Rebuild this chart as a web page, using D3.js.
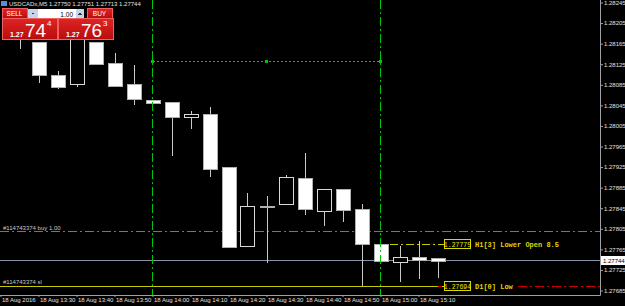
<!DOCTYPE html>
<html>
<head>
<meta charset="utf-8">
<script src="https://cdn.jsdelivr.net/npm/d3@7"></script>
<style>
  body { margin: 0; background: #000; }
  text { font-family: "Liberation Sans", Arial, sans-serif; }
</style>
</head>
<body>
<div id="chart"></div>
<script>
// ---- data ----
var symbolName = "USDCADx,M5";
var headerQuotes = ["1.27750", "1.27751", "1.27713", "1.27744"];

var candleTimes = ["13:25", "13:30", "13:35", "13:40", "13:45", "13:50", "13:55", "14:00",
  "14:05", "14:10", "14:15", "14:20", "14:25", "14:30", "14:35", "14:40", "14:45", "14:50",
  "14:55", "15:00", "15:05", "15:10", "15:15"];
var openPrices  = [1.28183, 1.28169, 1.28105, 1.28086, 1.28169, 1.28128, 1.28086, 1.28056,
  1.28051, 1.28023, 1.28029, 1.27926, 1.27772, 1.27850, 1.27852, 1.27903, 1.27841, 1.27883,
  1.27844, 1.27775, 1.27741, 1.27751, 1.27749];
var highPrices  = [1.28191, 1.28169, 1.28111, 1.28191, 1.28169, 1.28146, 1.28124, 1.28056,
  1.28051, 1.28035, 1.28041, 1.27926, 1.27874, 1.27868, 1.27909, 1.27953, 1.27883, 1.27883,
  1.27854, 1.27775, 1.27771, 1.27782, 1.27749];
var lowPrices   = [1.28154, 1.28089, 1.28076, 1.28080, 1.28126, 1.28082, 1.28045, 1.28051,
  1.27946, 1.28000, 1.27905, 1.27767, 1.27772, 1.27738, 1.27852, 1.27831, 1.27811, 1.27819,
  1.27694, 1.27741, 1.27701, 1.27708, 1.27710];
var closePrices = [1.28175, 1.28105, 1.28082, 1.28179, 1.28126, 1.28084, 1.28056, 1.28051,
  1.28021, 1.28029, 1.27922, 1.27771, 1.27850, 1.27848, 1.27905, 1.27843, 1.27883, 1.27843,
  1.27775, 1.27741, 1.27751, 1.27745, 1.27744];

var priceTicks = [1.28245, 1.28205, 1.28165, 1.28125, 1.28085, 1.28045, 1.28005, 1.27965,
  1.27925, 1.27885, 1.27845, 1.27805, 1.27765, 1.27725, 1.27685];
var timeTicks = ["13:20", "13:30", "13:40", "13:50", "14:00", "14:10", "14:20", "14:30",
  "14:40", "14:50", "15:00", "15:10"];
var timeTickLabels = ["18 Aug 2016", "18 Aug 13:30", "18 Aug 13:40", "18 Aug 13:50",
  "18 Aug 14:00", "18 Aug 14:10", "18 Aug 14:20", "18 Aug 14:30", "18 Aug 14:40",
  "18 Aug 14:50", "18 Aug 15:00", "18 Aug 15:10"];

var orderId = "#114743374";
var buyPrice = 1.27800, slPrice = 1.27694, bidPrice = 1.27744;
var h1OpenPrice = 1.27775, d1LowPrice = 1.27694;
var trendTimes = ["14:00", "15:00"], trendPrice = 1.28132;
var separatorTimes = ["14:00", "15:00"];
var sellQuote = ["1.27", "74", "4"], buyQuote = ["1.27", "76", "3"];

// ---- setup ----
var margin = {top: 0, right: 25, bottom: 11, left: 0},
    width = 625 - margin.left - margin.right,
    height = 306 - margin.top - margin.bottom;

var parseTime = function(s) { return d3.timeParse("%Y-%m-%d %H:%M")("2016-08-18 " + s); };

var svg = d3.select("#chart").append("svg")
    .attr("width", 625).attr("height", 306)
    .style("display", "block")
    .style("background", "#000");

var x = d3.scaleTime()
    .domain([parseTime("13:20"), parseTime("15:20")])
    .range([0.5, 456.5]);
var y = d3.scaleLinear()
    .domain([1.27685, 1.28245])
    .range([290.5, 2.5]);

var candles = candleTimes.map(function(t, i) {
  return {t: parseTime(t), o: openPrices[i], h: highPrices[i], l: lowPrices[i], c: closePrices[i]};
});

var plot = svg.append("g").attr("shape-rendering", "crispEdges");

// horizontal levels behind candles
function hline(price, x0, x1, color, dash) {
  plot.append("line")
    .attr("x1", x0).attr("x2", x1)
    .attr("y1", Math.round(y(price)) + 0.5).attr("y2", Math.round(y(price)) + 0.5)
    .attr("stroke", color).attr("stroke-dasharray", dash || null);
}
hline(buyPrice, 0, width, "#00c800", "9,3,2,3");
hline(bidPrice, 0, width, "#8a96a8");
hline(slPrice, 0, 444, "#c8c800");
hline(slPrice, 438, 444, "#d00000", "4,2,1,2");
hline(d1LowPrice, 518, width, "#d00000", "9,3,2,3");
hline(h1OpenPrice, 390, 444, "#c8c800", "8,3,2,3");

// candles
var cg = plot.selectAll(".candle").data(candles).enter().append("g").attr("class", "candle");
cg.append("line")
  .attr("x1", function(d) { return Math.round(x(d.t)) + 0.5; })
  .attr("x2", function(d) { return Math.round(x(d.t)) + 0.5; })
  .attr("y1", function(d) { return y(d.h); })
  .attr("y2", function(d) { return y(d.l); })
  .attr("stroke", "#c8c8c8");
cg.append("rect")
  .attr("x", function(d) { return Math.round(x(d.t)) - 6.5; })
  .attr("width", 14)
  .attr("y", function(d) { return Math.round(y(Math.max(d.o, d.c))) + 0.5; })
  .attr("height", function(d) { return Math.max(1, Math.round(y(Math.min(d.o, d.c)) - y(Math.max(d.o, d.c)))); })
  .attr("fill", function(d) { return d.c > d.o ? "#000" : "#fff"; })
  .attr("stroke", function(d) { return d.c > d.o ? "#d8d8d8" : "#b0b0b0"; });

// period separators and trendline on top
separatorTimes.forEach(function(t) {
  var xx = Math.round(x(parseTime(t))) - 0.5;
  plot.append("line").attr("x1", xx).attr("x2", xx).attr("y1", 0).attr("y2", height)
    .attr("stroke", "#00c800").attr("stroke-dasharray", "9,3,2,3");
});
var ty = Math.round(y(trendPrice)) + 0.5;
plot.append("line")
  .attr("x1", x(parseTime(trendTimes[0]))).attr("x2", x(parseTime(trendTimes[1])))
  .attr("y1", ty).attr("y2", ty)
  .attr("stroke", "#00c800").attr("stroke-dasharray", "2,2");
[trendTimes[0], "14:30", trendTimes[1]].forEach(function(t) {
  plot.append("rect").attr("x", Math.round(x(parseTime(t))) - 2).attr("y", ty - 1.5)
    .attr("width", 3).attr("height", 3).attr("fill", "#00c800");
});

// level labels
svg.append("text").attr("x", 3).attr("y", Math.round(y(buyPrice)) - 1)
  .attr("fill", "#c8c8c8").style("font-size", "6px").text(orderId + " buy 1.00");
svg.append("text").attr("x", 3).attr("y", Math.round(y(slPrice)) - 2)
  .attr("fill", "#c8c8c8").style("font-size", "6px").text(orderId + " sl");

function levelTag(price, label) {
  var yy = Math.round(y(price));
  svg.append("rect").attr("x", 444.5).attr("y", yy - 4.5).attr("width", 26).attr("height", 9)
    .attr("fill", "#000").attr("stroke", "#d8d800").attr("shape-rendering", "crispEdges");
  svg.append("text").attr("x", 457.5).attr("y", yy + 2.5).attr("text-anchor", "middle")
    .attr("fill", "#e8e800").style("font-family", "'Liberation Mono', monospace")
    .style("font-size", "6.5px").text(price.toFixed(5));
  svg.append("text").attr("x", 475).attr("y", yy + 2.5)
    .attr("fill", "#e0d800").style("font-family", "'Liberation Mono', monospace")
    .style("font-size", "7px").style("font-weight", "bold").text(label);
}
levelTag(h1OpenPrice, "H1[3] Lower Open 8.5");
levelTag(d1LowPrice, "D1[0] Low");

// ---- axes ----
var yAxis = svg.append("g")
  .attr("transform", "translate(" + width + ",0)")
  .call(d3.axisRight(y).tickValues(priceTicks).tickSize(3).tickPadding(1)
    .tickFormat(d3.format(".5f")));
var xAxis = svg.append("g")
  .attr("transform", "translate(0," + height + ")")
  .call(d3.axisBottom(x).tickValues(timeTicks.map(parseTime)).tickSize(2).tickPadding(1)
    .tickFormat(function(d, i) { return timeTickLabels[i]; }));
[yAxis, xAxis].forEach(function(a) {
  a.select(".domain").remove();
  a.selectAll("line").attr("stroke", "#a0a0a0");
  a.selectAll("text").attr("fill", "#e0e0e0")
    .style("font-family", "'Liberation Sans', Arial, sans-serif").style("font-size", "6px");
});
xAxis.selectAll("text").attr("text-anchor", "start").attr("x", 1);

svg.append("line").attr("x1", 0).attr("x2", width + 0.5).attr("y1", height + 0.5).attr("y2", height + 0.5)
  .attr("stroke", "#a0a0a0");
svg.append("line").attr("x1", width + 0.5).attr("x2", width + 0.5).attr("y1", 0).attr("y2", height + 0.5)
  .attr("stroke", "#a0a0a0");

// bid tag
var by = Math.round(y(bidPrice));
svg.append("rect").attr("x", 601).attr("y", by - 4).attr("width", 24).attr("height", 9).attr("fill", "#fff");
svg.append("text").attr("x", 603).attr("y", by + 3).attr("fill", "#000").style("font-size", "6px").text(bidPrice.toFixed(5));

// ---- header + one-click trading panel ----
var hdr = svg.append("g");
hdr.append("rect").attr("x", 1).attr("y", 1).attr("width", 6).attr("height", 5).attr("fill", "#5a8fd8");
hdr.append("text").attr("x", 9).attr("y", 6).attr("fill", "#e0e0e0").style("font-size", "6px")
  .text(symbolName + "  " + headerQuotes.join(" "));

var panel = svg.append("g").attr("shape-rendering", "crispEdges");
var grad = svg.append("defs").append("linearGradient").attr("id", "redg")
  .attr("x1", 0).attr("y1", 0).attr("x2", 0).attr("y2", 1);
grad.append("stop").attr("offset", 0).attr("stop-color", "#e02424");
grad.append("stop").attr("offset", 1).attr("stop-color", "#b80c0c");

function button(x0, w, label) {
  panel.append("rect").attr("x", x0 + 0.5).attr("y", 8.5).attr("width", w).attr("height", 10)
    .attr("fill", "url(#redg)").attr("stroke", "#f06060");
  panel.append("text").attr("x", x0 + w / 2).attr("y", 16).attr("text-anchor", "middle")
    .attr("fill", "#fff").style("font-size", "6.5px").text(label);
}
button(2, 25, "SELL");
button(87, 25, "BUY");
panel.append("rect").attr("x", 28).attr("y", 9).attr("width", 10).attr("height", 10).attr("fill", "#c8d4e8");
panel.append("path").attr("d", "M31,12.5 L35,12.5 L33,15 Z").attr("fill", "#334");
panel.append("rect").attr("x", 38).attr("y", 9).attr("width", 38).attr("height", 10).attr("fill", "#fff");
panel.append("text").attr("x", 73).attr("y", 16.5).attr("text-anchor", "end").attr("fill", "#000")
  .style("font-size", "6.5px").text("1.00");
panel.append("rect").attr("x", 76).attr("y", 9).attr("width", 8).attr("height", 10).attr("fill", "#c8d4e8");
panel.append("path").attr("d", "M78,15 L82,15 L80,12.5 Z").attr("fill", "#334");

function quoteBox(x0, q) {
  panel.append("rect").attr("x", x0 + 0.5).attr("y", 18.5).attr("width", 55).attr("height", 21)
    .attr("fill", "url(#redg)").attr("stroke", "#f06060");
  panel.append("text").attr("x", x0 + 8).attr("y", 37).attr("fill", "#fff")
    .style("font-size", "7px").style("font-weight", "bold").text(q[0]);
  panel.append("text").attr("x", x0 + 23).attr("y", 37).attr("fill", "#fff")
    .style("font-size", "19px").text(q[1]);
  panel.append("text").attr("x", x0 + 45).attr("y", 26).attr("fill", "#fff")
    .style("font-size", "8px").text(q[2]);
}
quoteBox(2, sellQuote);
quoteBox(58, buyQuote);
</script>
</body>
</html>
